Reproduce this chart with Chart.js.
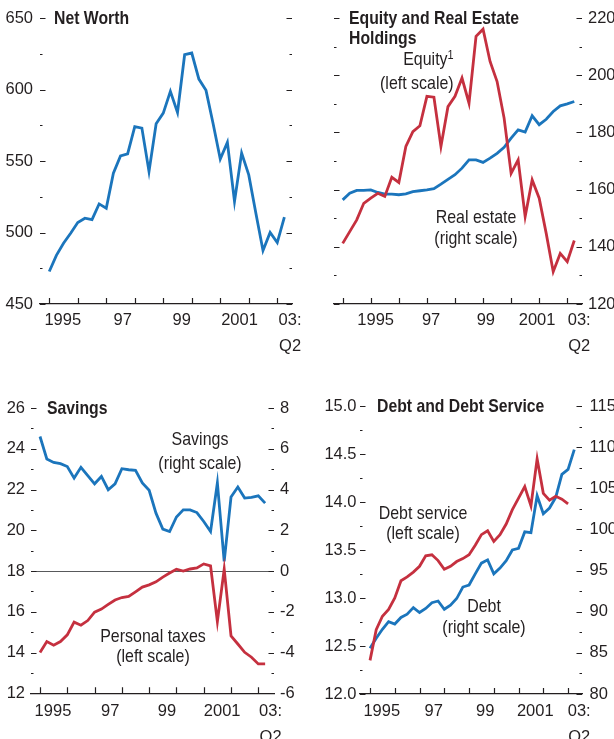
<!DOCTYPE html>
<html>
<head>
<meta charset="utf-8">
<title>Household balance sheet</title>
<script src="https://cdn.jsdelivr.net/npm/chart.js@4.4.1/dist/chart.umd.min.js"></script>
<style>
    html, body { margin: 0; padding: 0; background: #fff; }
    body {
        position: relative; width: 614px; height: 739px; overflow: hidden;
        font-family: "Liberation Sans", Arial, sans-serif;
        font-size: 19px; color: #231f20;
    }
    .panel { position: absolute; }
    .panel canvas { display: block; }
    /* narrow type, as in the original */
    .note { position: absolute; white-space: nowrap; transform-origin: left top; transform: scaleX(0.83); }
    .title { font-weight: bold; line-height: 20px; }
    .center { transform-origin: center top; transform: translateX(-50%) scaleX(0.84); text-align: center; }
    .right { transform-origin: right top; transform: scaleX(0.84); text-align: right; }
    .sup { font-size: 13px; position: relative; top: -6px; }
</style>
</head>
<body>
<div class="panel" style="left:0;top:0"><canvas id="netWorthChart" width="307" height="370"></canvas></div>
<div class="panel" style="left:307px;top:0"><canvas id="holdingsChart" width="307" height="370"></canvas></div>
<div class="panel" style="left:0;top:370px"><canvas id="savingsChart" width="307" height="369"></canvas></div>
<div class="panel" style="left:307px;top:370px"><canvas id="debtChart" width="307" height="369"></canvas></div>

<!-- titles -->
<div class="note title" style="left:54px;top:8px">Net Worth</div>
<div class="note title" style="left:349px;top:8px">Equity and Real Estate<br>Holdings</div>
<div class="note title" style="left:47px;top:398px">Savings</div>
<div class="note title" style="left:377px;top:396px">Debt and Debt Service</div>

<!-- series notes -->
<div class="note right" style="right:160px;top:48px;line-height:21.6px">Equity<span class="sup">1</span><br>(left scale)</div>
<div class="note center" style="left:476px;top:206px;line-height:21.4px">Real estate<br>(right scale)</div>
<div class="note center" style="left:200px;top:427px;line-height:24px">Savings<br>(right scale)</div>
<div class="note center" style="left:153px;top:626px;line-height:19.5px">Personal taxes<br>(left scale)</div>
<div class="note center" style="left:423px;top:503px;line-height:19.5px">Debt service<br>(left scale)</div>
<div class="note center" style="left:484px;top:596px;line-height:20.5px">Debt<br>(right scale)</div>

<script>
// Quarterly observations, 1995:Q1 to 2003:Q2
const quarters = [
    '1995Q1', '1995Q2', '1995Q3', '1995Q4', '1996Q1', '1996Q2', '1996Q3', '1996Q4',
    '1997Q1', '1997Q2', '1997Q3', '1997Q4', '1998Q1', '1998Q2', '1998Q3', '1998Q4',
    '1999Q1', '1999Q2', '1999Q3', '1999Q4', '2000Q1', '2000Q2', '2000Q3', '2000Q4',
    '2001Q1', '2001Q2', '2001Q3', '2001Q4', '2002Q1', '2002Q2', '2002Q3', '2002Q4',
    '2003Q1', '2003Q2'
];

// Year tick marks and year labels on the x axis
const yearStarts = ['1995Q1', '1996Q1', '1997Q1', '1998Q1', '1999Q1', '2000Q1', '2001Q1', '2002Q1', '2003Q1'];
const yearLabels = ['1995', '97', '99', '2001', ['03:', 'Q2']];

// Net Worth
const netWorth = [
    472.7, 484, 492.5, 499.5, 507, 510, 509, 520, 517, 541.5, 553.6, 555,
    574, 573, 542.7, 576, 583.5, 598.7, 584, 624.3, 625.5, 607.3, 599.4, 576,
    551.3, 563, 521.7, 555.5, 540.3, 513.5, 487.4, 500, 493, 510.7
];

// Equity and Real Estate Holdings
const equity = [
    141.2, 145.3, 149.4, 155.2, 157, 158.7, 157.6, 164.3, 162.5, 175.1, 180.3, 182.3,
    192.6, 192.3, 175.1, 189, 192.6, 199, 190.2, 213.6, 216.1, 204.8, 197.8, 185,
    165.7, 170.4, 150.6, 163.4, 157, 144.7, 131.3, 137.7, 134.8, 142.2
];
const realEstate = [
    156.4, 158.7, 159.7, 159.7, 159.9, 159, 158.4, 158.4, 158.2, 158.5, 159.3, 159.6,
    159.9, 160.3, 161.9, 163.6, 165.2, 167.5, 170.4, 170.4, 169.5, 171, 172.7, 174.8,
    178, 180.9, 180.1, 185.8, 182.7, 184.6, 187.3, 189.3, 190, 190.8
];

// Savings
const savings = [
    6.6, 5.5, 5.33, 5.27, 5.13, 4.56, 5.09, 4.68, 4.28, 4.64, 3.99, 4.28,
    5.02, 4.97, 4.94, 4.32, 3.96, 2.84, 2.06, 1.94, 2.65, 3.0, 3.0, 2.87,
    2.43, 1.94, 4.32, 0.47, 3.63, 4.12, 3.58, 3.61, 3.69, 3.33
];
const personalTaxes = [
    14.0, 14.54, 14.36, 14.54, 14.87, 15.49, 15.34, 15.57, 15.98, 16.13, 16.36, 16.58,
    16.7, 16.75, 16.98, 17.21, 17.32, 17.47, 17.7, 17.9, 18.09, 18.0, 18.1, 18.15,
    18.35, 18.25, 15.52, 18.09, 14.82, 14.42, 14.01, 13.77, 13.44, 13.44
];

// Debt and Debt Service (debt service ends in 2003:Q1)
const debtService = [
    12.35, 12.67, 12.81, 12.88, 13.0, 13.18, 13.22, 13.27, 13.33, 13.44, 13.45, 13.39,
    13.3, 13.33, 13.38, 13.41, 13.45, 13.55, 13.66, 13.7, 13.59, 13.66, 13.77, 13.92,
    14.04, 14.16, 13.96, 14.45, 14.09, 14.02, 14.06, 14.03, 13.98
];
const debt = [
    85.55, 86.77, 87.86, 88.8, 88.5, 89.3, 89.7, 90.5, 89.9, 90.4, 91.1, 91.3,
    90.3, 90.8, 91.6, 93.0, 93.25, 94.6, 95.9, 96.3, 94.6, 95.3, 96.2, 97.5,
    97.7, 99.7, 99.6, 104.1, 101.9, 102.6, 103.9, 106.7, 107.3, 109.7
];

const INK = '#231f20';
const BLUE = '#1b75bc';
const RED = '#c5303f';

Chart.defaults.font.family = '"Liberation Sans", Arial, sans-serif';
Chart.defaults.font.size = 16.5;
Chart.defaults.color = INK;

// Turn a series into {x, y} points, x being the quarter index
function toPoints(values) {
    return values.map((v, i) => ({ x: quarters.indexOf(quarters[i]), y: v }));
}

function isMajor(value, labelStep) {
    const r = value / labelStep;
    return Math.abs(r - Math.round(r)) < 1e-6;
}

// Plugin that draws the short inward tick marks (y on both sides, years on x)
const inwardTicks = {
    id: 'inwardTicks',
    afterDraw(chart) {
        const { ctx, chartArea: a, scales } = chart;
        ctx.save();
        ctx.strokeStyle = INK;
        ctx.lineWidth = 1.2;
        ctx.beginPath();
        ['yL', 'yR'].forEach(key => {
            const s = scales[key];
            const onLeft = key === 'yL';
            s.ticks.forEach(t => {
                const y = Math.round(s.getPixelForValue(t.value)) + 0.5;
                const len = t.label ? 5.5 : 2.5;
                const x0 = onLeft ? a.left : a.right;
                ctx.moveTo(x0, y);
                ctx.lineTo(onLeft ? x0 + len : x0 - len, y);
            });
        });
        yearStarts.forEach(q => {
            const x = Math.round(scales.x.getPixelForValue(quarters.indexOf(q))) + 0.5;
            ctx.moveTo(x, a.bottom);
            ctx.lineTo(x, a.bottom - 6);
        });
        ctx.stroke();
        ctx.restore();
    }
};

function makeYAxis(position, ax) {
    return {
        type: 'linear',
        position: position,
        min: ax.min,
        max: ax.max,
        border: { display: false },
        grid: {
            display: ax.zeroAt !== undefined,
            drawTicks: false,
            lineWidth: 1,
            color: c => (c.tick && Math.abs(c.tick.value - ax.zeroAt) < 1e-6) ? '#58595b' : 'rgba(0,0,0,0)'
        },
        ticks: {
            display: ax.showLabels,
            padding: ax.pad,
            autoSkip: false,
            callback: v => isMajor(v, ax.labelStep) ? (ax.digits ? v.toFixed(ax.digits) : String(v)) : ''
        },
        afterBuildTicks: s => {
            const list = [];
            const n = Math.round((ax.max - ax.min) / ax.step);
            for (let i = 0; i <= n; i++) list.push({ value: +(ax.min + i * ax.step).toFixed(4) });
            s.ticks = list;
        },
        afterFit: s => { s.width = ax.width; }
    };
}

// Function to create one panel
function createPanel(canvasId, panel) {
    const ctx = document.getElementById(canvasId).getContext('2d');
    return new Chart(ctx, {
        type: 'line',
        data: {
            datasets: panel.series.map(s => ({
                data: toPoints(s.values),
                yAxisID: s.axis,
                borderColor: s.color,
                borderWidth: 2.8,
                pointRadius: 0,
                fill: false,
                tension: 0
            }))
        },
        options: {
            responsive: false,
            animation: false,
            events: [],
            layout: { padding: { top: panel.top, left: 0, right: 0, bottom: 0 } },
            plugins: { legend: { display: false }, tooltip: { enabled: false } },
            scales: {
                x: {
                    type: 'linear',
                    min: panel.xMin,
                    max: panel.xMax,
                    border: { display: true, color: INK, width: 1.2 },
                    grid: { display: false, drawTicks: false },
                    ticks: {
                        autoSkip: false,
                        maxRotation: 0,
                        padding: panel.xPad,
                        font: { size: 16.5, lineHeight: 1.58 },
                        callback: (v, i) => yearLabels[i]
                    },
                    afterBuildTicks: s => { s.ticks = panel.labelAt.map(v => ({ value: v })); },
                    afterFit: s => { s.height = panel.xHeight; }
                },
                yL: makeYAxis('left', panel.left),
                yR: makeYAxis('right', panel.right)
            }
        },
        plugins: [inwardTicks]
    });
}

const mainLabelAt = [1.9, 10.3, 18.6, 26.7, 33.8];

createPanel('netWorthChart', {
    top: 18, xHeight: 66, xPad: 3, xMin: -1.3, xMax: 34.07,
    labelAt: mainLabelAt,
    left: { min: 450, max: 650, step: 25, labelStep: 50, showLabels: true, pad: 7, width: 40 },
    right: { min: 450, max: 650, step: 25, labelStep: 50, showLabels: false, pad: 6, width: 15 },
    series: [{ values: netWorth, axis: 'yL', color: BLUE }]
});

createPanel('holdingsChart', {
    top: 18, xHeight: 66, xPad: 3, xMin: -1.24, xMax: 34.1,
    labelAt: [4.7, 12.6, 20.4, 27.7, 33.7],
    left: { min: 120, max: 220, step: 10, labelStep: 20, showLabels: false, pad: 6, width: 27 },
    right: { min: 120, max: 220, step: 10, labelStep: 20, showLabels: true, pad: 6, width: 32 },
    series: [
        { values: equity, axis: 'yL', color: RED },
        { values: realEstate, axis: 'yR', color: BLUE }
    ]
});

createPanel('savingsChart', {
    top: 38, xHeight: 45.7, xPad: 5, xMin: -1.32, xMax: 34.3,
    labelAt: mainLabelAt,
    left: { min: 12, max: 26, step: 1, labelStep: 2, showLabels: true, pad: 6, width: 31, zeroAt: 18 },
    right: { min: -6, max: 8, step: 1, labelStep: 2, showLabels: true, pad: 6, width: 33 },
    series: [
        { values: personalTaxes, axis: 'yL', color: RED },
        { values: savings, axis: 'yR', color: BLUE }
    ]
});

createPanel('debtChart', {
    top: 36, xHeight: 45, xPad: 4.5, xMin: -1.62, xMax: 34.25,
    labelAt: mainLabelAt,
    left: { min: 12, max: 15, step: 0.25, labelStep: 0.5, showLabels: true, pad: 3.5, width: 53, digits: 1 },
    right: { min: 80, max: 115, step: 2.5, labelStep: 5, showLabels: true, pad: 7.5, width: 32 },
    series: [
        { values: debtService, axis: 'yL', color: RED },
        { values: debt, axis: 'yR', color: BLUE }
    ]
});
</script>
</body>
</html>
